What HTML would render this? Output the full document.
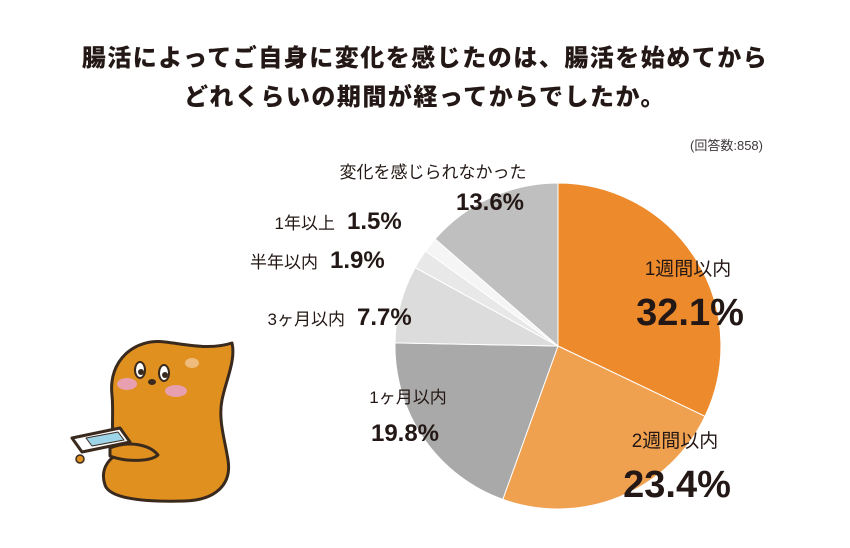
<!DOCTYPE html>
<html><head><meta charset="utf-8"><style>
body{margin:0;background:#fff;width:850px;height:543px;overflow:hidden;font-family:"Liberation Sans","Noto Sans CJK JP",sans-serif;}
</style></head><body>
<svg width="850" height="543" viewBox="0 0 850 543" xmlns="http://www.w3.org/2000/svg" font-family="Liberation Sans, Noto Sans CJK JP, sans-serif">
<text x="425" y="66" text-anchor="middle" font-size="24" letter-spacing="1.5" font-weight="900" fill="#231815">腸活によってご自身に変化を感じたのは、腸活を始めてから</text>
<text x="425" y="105" text-anchor="middle" font-size="24" letter-spacing="1.5" font-weight="900" fill="#231815">どれくらいの期間が経ってからでしたか。</text>
<text x="763" y="150" text-anchor="end" font-size="13" fill="#3e3a39">(回答数:858)</text>
<g stroke="#fff" stroke-width="1">
<path d="M558,346 L558,183 A163,163 0 0 1 705,416.3 Z" fill="#ED8A2C"/>
<path d="M558,346 L705,416.3 A163,163 0 0 1 502.8,499.4 Z" fill="#F0A150"/>
<path d="M558,346 L502.8,499.4 A163,163 0 0 1 395,342.9 Z" fill="#A9A9A9"/>
<path d="M558,346 L395,342.9 A163,163 0 0 1 415.2,267.5 Z" fill="#DCDCDC"/>
<path d="M558,346 L415.2,267.5 A163,163 0 0 1 425.5,251 Z" fill="#E8E8E8"/>
<path d="M558,346 L425.5,251 A163,163 0 0 1 435.1,239 Z" fill="#F5F5F5"/>
<path d="M558,346 L435.1,239 A163,163 0 0 1 558,183 Z" fill="#BFBFBF"/>
</g>
<g fill="#231815">
<text x="688" y="275" text-anchor="middle" font-size="19">1週間以内</text>
<text x="690" y="325" text-anchor="middle" font-size="38" font-weight="bold">32.1%</text>
<text x="675" y="447" text-anchor="middle" font-size="19">2週間以内</text>
<text x="677" y="497" text-anchor="middle" font-size="38" font-weight="bold">23.4%</text>
<text x="408" y="403" text-anchor="middle" font-size="17">1ヶ月以内</text>
<text x="405" y="441" text-anchor="middle" font-size="24" font-weight="bold">19.8%</text>
<text x="345" y="325" text-anchor="end" font-size="17">3ヶ月以内</text>
<text x="357" y="325" font-size="24" font-weight="bold">7.7%</text>
<text x="318" y="268" text-anchor="end" font-size="17">半年以内</text>
<text x="330" y="268" font-size="24" font-weight="bold">1.9%</text>
<text x="335" y="229" text-anchor="end" font-size="17">1年以上</text>
<text x="347" y="229" font-size="24" font-weight="bold">1.5%</text>
<text x="433" y="178" text-anchor="middle" font-size="17">変化を感じられなかった</text>
<text x="490" y="210" text-anchor="middle" font-size="24" font-weight="bold">13.6%</text>
</g>
<g stroke="#3a2a1e" stroke-width="3" stroke-linejoin="round">
<path d="M112,395 C108,360 135,338 165,342 C190,345 210,350 232,343 C236,360 226,380 222,400 C218,420 225,440 228,460 C232,485 215,500 185,501 C150,502 110,500 105,485 C100,470 108,460 116,455 C110,435 114,415 112,395 Z" fill="#E0901E"/>
<path d="M72,438 L120,428 L130,442 L82,452 Z" fill="#fff"/>
<path d="M86,438 L118,432 L124,440 L92,446 Z" fill="#9ed4e8" stroke-width="1"/>
<path d="M110,448 C130,440 150,445 158,455 C150,462 125,462 110,456 Z" fill="#E0901E"/>
</g>
<ellipse cx="127" cy="384" rx="10" ry="6" fill="#E8A0B0"/>
<ellipse cx="176" cy="391" rx="11" ry="6" fill="#E8A0B0"/>
<ellipse cx="140" cy="370" rx="5" ry="8" fill="#fff" stroke="#3a2a1e" stroke-width="2"/>
<ellipse cx="164" cy="373" rx="5" ry="8" fill="#fff" stroke="#3a2a1e" stroke-width="2"/>
<circle cx="141" cy="372" r="3" fill="#3a2a1e"/><circle cx="165" cy="375" r="3" fill="#3a2a1e"/>
<ellipse cx="152" cy="382" rx="4" ry="3" fill="#3a2a1e"/>
<ellipse cx="192" cy="363" rx="7" ry="5" fill="#F0BC7E"/>
<circle cx="80" cy="459" r="4" fill="#E0901E" stroke="#3a2a1e" stroke-width="1.5"/>
</svg>
</body></html>
